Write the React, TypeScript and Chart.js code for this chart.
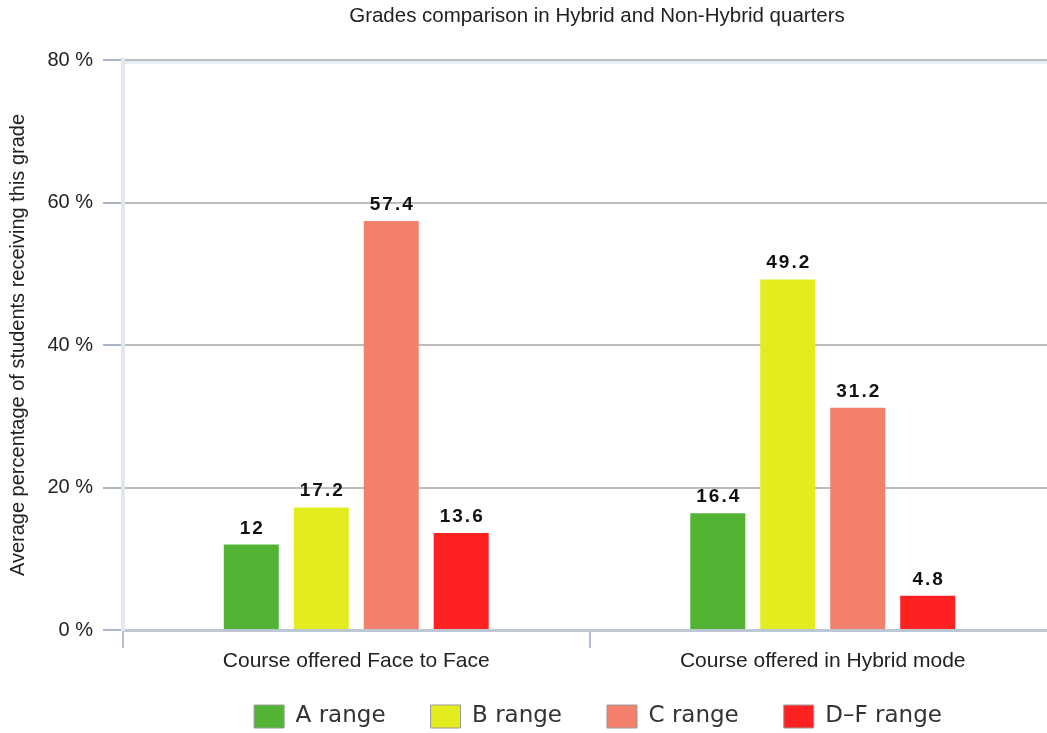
import React, { useEffect, useRef } from 'react';
import { Chart, registerables } from 'chart.js';

Chart.register(...registerables);

// ---- data ----
const categories = ['Course offered Face to Face', 'Course offered in Hybrid mode'];
const seriesNames = ['A range', 'B range', 'C range', 'D–F range'];
const aRange = [12, 16.4];
const bRange = [17.2, 49.2];
const cRange = [57.4, 31.2];
const dfRange = [13.6, 4.8];
const yTicks = [0, 20, 40, 60, 80];
const chartTitle = 'Grades comparison in Hybrid and Non-Hybrid quarters';
const yTitle = 'Average percentage of students receiving this grade';

// ---- style ----
const seriesColors = ['#52b334', '#e2ec1e', '#f2806a', '#fe2121'];
const SANS = '"Liberation Sans", Arial, Helvetica, sans-serif';
const TITLE_CENTER_X = 597;
const LEGEND_CENTER_X = 598;
const LEGEND_BOX_TOP = 705;
const LEGEND_PADDING = 45;

const valueLabels = {
  id: 'valueLabels',
  afterDatasetsDraw(chart: any) {
    const ctx = chart.ctx as CanvasRenderingContext2D;
    ctx.save();
    ctx.font = 'bold 19px ' + SANS;
    (ctx as any).letterSpacing = '2px';
    ctx.fillStyle = '#111';
    ctx.textAlign = 'center';
    ctx.textBaseline = 'alphabetic';
    chart.data.datasets.forEach((ds: any, i: number) => {
      const meta = chart.getDatasetMeta(i);
      meta.data.forEach((bar: any, j: number) => {
        ctx.fillText(String(ds.data[j]), bar.x + 1, bar.y - 11);
      });
    });
    ctx.restore();
  },
};

const topBand = {
  id: 'topBand',
  beforeDatasetsDraw(chart: any) {
    const { ctx, chartArea } = chart;
    ctx.save();
    ctx.strokeStyle = '#e6edf3';
    ctx.lineWidth = 3;
    ctx.beginPath();
    ctx.moveTo(chartArea.left + 2, chartArea.top + 2.5);
    ctx.lineTo(chartArea.right, chartArea.top + 2.5);
    ctx.stroke();
    ctx.restore();
  },
};

const centerShift = {
  id: 'centerShift',
  afterLayout(chart: any) {
    const ca = chart.chartArea;
    const mid = (ca.left + ca.right) / 2;
    const t = chart.titleBlock;
    if (t) {
      const d = TITLE_CENTER_X - mid;
      t.left += d;
      t.right += d;
    }
    const l = chart.legend;
    if (l) {
      const d = LEGEND_CENTER_X - mid;
      l.left += d;
      l.right += d;
      const dy = LEGEND_BOX_TOP - (l.top + LEGEND_PADDING);
      l.top += dy;
      l.bottom += dy;
    }
  },
};

export default function App() {
  const ref = useRef<HTMLCanvasElement>(null);

  useEffect(() => {
    const seriesData = [aRange, bRange, cRange, dfRange];
    const chart = new Chart(ref.current as HTMLCanvasElement, {
      type: 'bar',
      data: {
        labels: categories,
        datasets: seriesNames.map((name, i) => ({
          label: name,
          data: seriesData[i],
          backgroundColor: seriesColors[i],
          borderWidth: 0,
          categoryPercentage: 0.6,
          barPercentage: 0.786,
        })),
      },
      options: {
        animation: false,
        responsive: false,
        layout: { padding: 0 },
        plugins: {
          title: {
            display: true,
            text: chartTitle,
            fullSize: false,
            color: '#222',
            font: { family: SANS, size: 20.5, weight: 'normal' },
            padding: { top: 4, bottom: 31.4 },
          },
          legend: {
            position: 'bottom',
            fullSize: false,
            labels: {
              boxWidth: 30,
              boxHeight: 23,
              padding: LEGEND_PADDING,
              color: '#333',
              font: { family: '"DejaVu Sans", sans-serif', size: 23 },
              generateLabels: (c: any) =>
                (Chart.defaults.plugins.legend.labels.generateLabels as any)(c).map((l: any) => ({
                  ...l,
                  strokeStyle: '#9a9a9a',
                  lineWidth: 1,
                })),
            },
          },
          tooltip: { enabled: false },
        },
        scales: {
          x: {
            grid: {
              offset: true,
              drawOnChartArea: false,
              color: '#b4c0cf',
              lineWidth: 2,
              tickLength: 18,
            },
            border: { color: '#bcc7d4', width: 3 },
            ticks: { color: '#222', font: { family: SANS, size: 21 }, padding: 1 },
            afterFit: (s: any) => {
              s.height = 50;
            },
          },
          y: {
            min: 0,
            max: 80,
            afterBuildTicks: (s: any) => {
              s.ticks = yTicks.map((v) => ({ value: v }));
            },
            ticks: {
              color: '#222',
              font: { family: SANS, size: 20 },
              padding: 10,
              callback: (v: any) => v + ' %',
            },
            grid: {
              color: '#bdbdbd',
              lineWidth: 2,
              tickColor: '#aab6c6',
              tickWidth: 2,
              tickLength: 20,
            },
            border: { color: '#e1e8ef', width: 4 },
            title: {
              display: true,
              text: yTitle,
              color: '#222',
              font: { family: SANS, size: 20 },
              padding: { top: 6, bottom: 0 },
            },
            afterFit: (s: any) => {
              s.width = 123;
            },
          },
        },
      } as any,
      plugins: [valueLabels, topBand, centerShift],
    });
    return () => chart.destroy();
  }, []);

  return (
    <div
      style={{
        position: 'fixed',
        left: 0,
        top: 0,
        width: 1047,
        height: 733,
        overflow: 'hidden',
        background: '#fff',
      }}
    >
      <canvas ref={ref} width={1056} height={758} style={{ display: 'block' }} />
    </div>
  );
}
